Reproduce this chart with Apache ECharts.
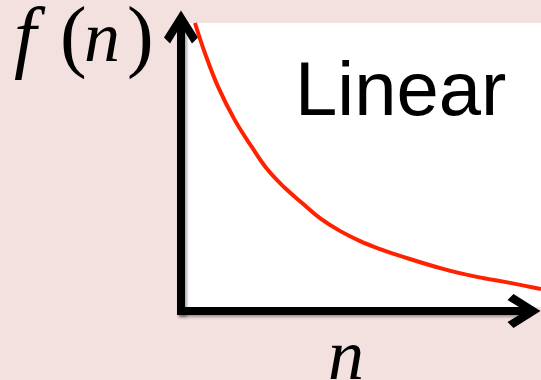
<!DOCTYPE html>
<html>
<head>
  <meta charset="UTF-8">
  <title>f(n) Linear</title>
  <script src="https://cdn.jsdelivr.net/npm/echarts@6/dist/echarts.min.js"></script>
  <style>
    html, body { margin: 0; padding: 0; background: #f3e1df; }
    #chart { width: 541px; height: 380px; }
  </style>
</head>
<body>
<div id="chart"></div>
<script>
// curve (n on 0..10, f(n) on 0..10)
var nValues = [0.28, 0.56, 0.93, 1.40, 1.88, 2.33, 2.81, 3.29, 3.79, 4.35, 4.92, 5.48, 6.04, 7.25, 8.20, 9.13, 10.0];
var fValues = [10.0, 8.94, 7.75, 6.58, 5.63, 4.82, 4.19, 3.66, 3.13, 2.68, 2.32, 2.04, 1.80, 1.34, 1.06, 0.85, 0.63];
var titleText = 'Linear';

var curve = nValues.map(function (n, i) { return [n, fValues[i]]; });

// open chevron for the axis arrows (points up, rotated by echarts)
var chevron = 'path://M16,0 L33,27 L27,33 L16,15 L5,33 L-1,27 Z';

var axisLineStyle = {
  color: '#000',
  width: 8,
  cap: 'square',
  shadowColor: 'rgba(0,0,0,0.35)',
  shadowBlur: 3,
  shadowOffsetX: 2,
  shadowOffsetY: 2
};

var chart = echarts.init(document.getElementById('chart'));
var option = {
  backgroundColor: '#f3e1df',
  animation: false,
  grid: [
    // white plotting area
    { left: 185, right: 0, top: 23, bottom: 73, show: true, backgroundColor: '#ffffff', borderWidth: 0 },
    // axes with arrows
    { left: 181, right: 17, top: 27, bottom: 69 }
  ],
  xAxis: [
    { gridIndex: 0, type: 'value', min: 0, max: 10, show: false },
    {
      gridIndex: 1, type: 'value', min: 0, max: 1,
      axisLine: { show: true, symbol: ['none', chevron], symbolSize: [34, 33], lineStyle: axisLineStyle },
      axisTick: { show: false }, axisLabel: { show: false }, splitLine: { show: false }
    }
  ],
  yAxis: [
    { gridIndex: 0, type: 'value', min: 0, max: 10, show: false },
    {
      gridIndex: 1, type: 'value', min: 0, max: 1,
      axisLine: { show: true, symbol: ['none', chevron], symbolSize: [34, 33], lineStyle: axisLineStyle },
      axisTick: { show: false }, axisLabel: { show: false }, splitLine: { show: false }
    }
  ],
  series: [{
    type: 'line',
    xAxisIndex: 0,
    yAxisIndex: 0,
    data: curve,
    smooth: 0.4,
    symbol: 'none',
    clip: false,
    lineStyle: { color: '#ff2200', width: 4 }
  }],
  graphic: [
    { type: 'text', left: 295, top: 56, z: 10,
      style: { text: titleText, font: '76px "Liberation Sans", Arial, sans-serif', fill: '#000' } },
    // f(n) label
    { type: 'text', x: 14, y: 2, z: 10,
      style: { text: 'f', font: 'italic 80px "Liberation Serif", "Times New Roman", serif', fill: '#000' } },
    { type: 'text', x: 60, y: 1, z: 10,
      style: { text: '(', font: '80px "Liberation Serif", "Times New Roman", serif', fill: '#000' } },
    { type: 'text', x: 84, y: 6, z: 10,
      style: { text: 'n', font: 'italic 72px "Liberation Serif", "Times New Roman", serif', fill: '#000' } },
    { type: 'text', x: 127, y: 1, z: 10,
      style: { text: ')', font: '80px "Liberation Serif", "Times New Roman", serif', fill: '#000' } },
    // n label
    { type: 'text', x: 328, y: 324, z: 10,
      style: { text: 'n', font: 'italic 72px "Liberation Serif", "Times New Roman", serif', fill: '#000' } }
  ]
};
chart.setOption(option);
</script>
</body>
</html>
